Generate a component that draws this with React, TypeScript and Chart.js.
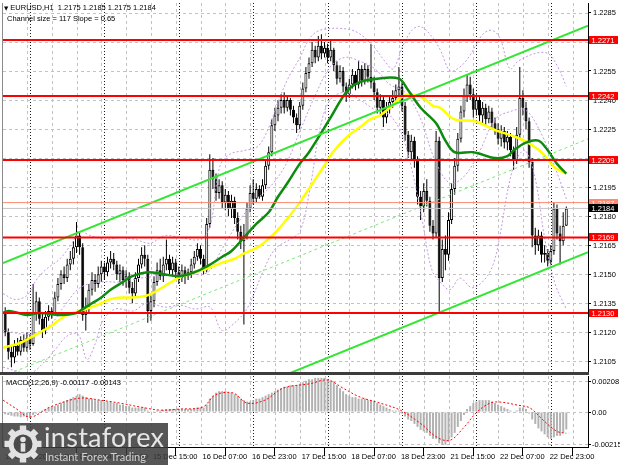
import React, { useEffect, useRef } from "react";
import { Chart, registerables } from "chart.js";

Chart.register(...registerables);

// ---------------- data ----------------
// bar index 0 = 14 Dec 00:00 (H1 bars, weekend gap removed)
const FIRST_BAR = -8;
const FIRST_OPEN = 1.2131;

const closes = [
  1.2120, 1.2110, 1.2107, 1.2113, 1.2110, 1.2116, 1.2112, 1.2117,
  1.2114, 1.2130, 1.2136, 1.2127, 1.2121, 1.2128, 1.2131, 1.2130, 1.2138, 1.2145,
  1.2150, 1.2148, 1.2155, 1.2158, 1.2164, 1.2170, 1.2164, 1.2129, 1.2133, 1.2142,
  1.2147, 1.2145, 1.2150, 1.2154, 1.2151, 1.2156, 1.2158, 1.2155, 1.2150, 1.2152,
  1.2147, 1.2149, 1.2143, 1.2140, 1.2148, 1.2155, 1.2160, 1.2158, 1.2131, 1.2136,
  1.2146, 1.2152, 1.2149, 1.2155, 1.2158, 1.2152, 1.2156, 1.2151, 1.2148, 1.2152,
  1.2149, 1.2151, 1.2155, 1.2159, 1.2163, 1.2158, 1.2152, 1.2176, 1.2204, 1.2199,
  1.2192, 1.2196, 1.2187, 1.2191, 1.2184, 1.2188, 1.2179, 1.2172, 1.2167, 1.2170,
  1.2184, 1.2192, 1.2189, 1.2194, 1.2190, 1.2196, 1.2206, 1.2213, 1.2227, 1.2232,
  1.2236, 1.2240, 1.2236, 1.2240, 1.2235, 1.2231, 1.2227, 1.2237, 1.2246, 1.2254,
  1.2259, 1.2266, 1.2262, 1.2268, 1.2264, 1.2267, 1.2262, 1.2266, 1.2258, 1.2251,
  1.2255, 1.2247, 1.2243, 1.2248, 1.2253, 1.2248, 1.2256, 1.2250, 1.2256, 1.2252,
  1.2249, 1.2244, 1.2236, 1.2240, 1.2231, 1.2236, 1.2239, 1.2241, 1.2245, 1.2247,
  1.2237, 1.2222, 1.2213, 1.2219, 1.2209, 1.2190, 1.2185, 1.2193, 1.2188, 1.2175,
  1.2171, 1.2219, 1.2148, 1.2163, 1.2160, 1.2178, 1.2194, 1.2206, 1.2220, 1.2234,
  1.2242, 1.2248, 1.2243, 1.2235, 1.2240, 1.2232, 1.2236, 1.2230, 1.2234, 1.2228,
  1.2225, 1.2220, 1.2224, 1.2218, 1.2221, 1.2214, 1.2209, 1.2222, 1.2241, 1.2236,
  1.2229, 1.2208, 1.2170, 1.2165, 1.2170, 1.2160, 1.2161, 1.2157, 1.2162, 1.2184,
  1.2171, 1.2167, 1.2175, 1.2184,
];

const highs = [
  1.2133, 1.2122, 1.2113, 1.2116, 1.2117, 1.2118, 1.2119, 1.2120,
  1.2119, 1.2145, 1.2141, 1.2138, 1.2130, 1.2131, 1.2134, 1.2133, 1.2141, 1.2148,
  1.2152, 1.2154, 1.2158, 1.2162, 1.2167, 1.2177, 1.2172, 1.2166, 1.2138, 1.2145,
  1.2151, 1.2150, 1.2154, 1.2157, 1.2156, 1.2159, 1.2162, 1.2161, 1.2157, 1.2155,
  1.2154, 1.2152, 1.2151, 1.2146, 1.2151, 1.2158, 1.2164, 1.2165, 1.2160, 1.2139,
  1.2149, 1.2156, 1.2158, 1.2159, 1.2168, 1.2160, 1.2159, 1.2158, 1.2154, 1.2155,
  1.2154, 1.2153, 1.2158, 1.2162, 1.2166, 1.2165, 1.2160, 1.2179, 1.2212, 1.2210,
  1.2202, 1.2199, 1.2198, 1.2194, 1.2193, 1.2191, 1.2190, 1.2182, 1.2175, 1.2176,
  1.2187, 1.2196, 1.2199, 1.2197, 1.2196, 1.2199, 1.2209, 1.2216, 1.2230, 1.2236,
  1.2240, 1.2243, 1.2244, 1.2242, 1.2241, 1.2237, 1.2233, 1.2239, 1.2249, 1.2257,
  1.2262, 1.2270, 1.2268, 1.2273, 1.2274, 1.2270, 1.2269, 1.2271, 1.2267, 1.2260,
  1.2258, 1.2257, 1.2249, 1.2251, 1.2256, 1.2255, 1.2260, 1.2258, 1.2259, 1.2258,
  1.2269, 1.2252, 1.2246, 1.2243, 1.2242, 1.2239, 1.2242, 1.2245, 1.2248, 1.2257,
  1.2249, 1.2239, 1.2224, 1.2222, 1.2221, 1.2211, 1.2193, 1.2197, 1.2199, 1.2190,
  1.2178, 1.2224, 1.2221, 1.2168, 1.2170, 1.2182, 1.2197, 1.2210, 1.2223, 1.2237,
  1.2246, 1.2253, 1.2252, 1.2246, 1.2243, 1.2242, 1.2239, 1.2238, 1.2237, 1.2236,
  1.2231, 1.2228, 1.2227, 1.2226, 1.2224, 1.2223, 1.2216, 1.2226, 1.2257, 1.2245,
  1.2239, 1.2231, 1.2210, 1.2174, 1.2173, 1.2172, 1.2165, 1.2163, 1.2165, 1.2187,
  1.2186, 1.2175, 1.2182, 1.2185,
];

const lows = [
  1.2118, 1.2106, 1.2102, 1.2104, 1.2108, 1.2108, 1.2110, 1.2110,
  1.2111, 1.2113, 1.2126, 1.2124, 1.2117, 1.2119, 1.2126, 1.2127, 1.2129, 1.2136,
  1.2142, 1.2145, 1.2146, 1.2152, 1.2155, 1.2161, 1.2160, 1.2126, 1.2121, 1.2130,
  1.2139, 1.2141, 1.2143, 1.2146, 1.2147, 1.2149, 1.2153, 1.2152, 1.2147, 1.2146,
  1.2144, 1.2143, 1.2140, 1.2135, 1.2138, 1.2146, 1.2153, 1.2154, 1.2125, 1.2126,
  1.2133, 1.2144, 1.2147, 1.2146, 1.2152, 1.2150, 1.2149, 1.2148, 1.2145, 1.2146,
  1.2145, 1.2147, 1.2148, 1.2153, 1.2157, 1.2155, 1.2150, 1.2151, 1.2174, 1.2194,
  1.2188, 1.2189, 1.2184, 1.2183, 1.2180, 1.2179, 1.2176, 1.2168, 1.2163, 1.2124,
  1.2168, 1.2182, 1.2186, 1.2187, 1.2189, 1.2188, 1.2194, 1.2204, 1.2211, 1.2224,
  1.2229, 1.2233, 1.2233, 1.2234, 1.2232, 1.2228, 1.2223, 1.2225, 1.2235, 1.2244,
  1.2251, 1.2257, 1.2259, 1.2260, 1.2261, 1.2262, 1.2259, 1.2260, 1.2255, 1.2248,
  1.2249, 1.2244, 1.2239, 1.2241, 1.2246, 1.2245, 1.2246, 1.2247, 1.2248, 1.2249,
  1.2246, 1.2240, 1.2233, 1.2232, 1.2226, 1.2228, 1.2233, 1.2236, 1.2238, 1.2242,
  1.2234, 1.2219, 1.2210, 1.2209, 1.2205, 1.2186, 1.2178, 1.2182, 1.2185, 1.2172,
  1.2168, 1.2169, 1.2130, 1.2146, 1.2152, 1.2157, 1.2176, 1.2191, 1.2203, 1.2218,
  1.2231, 1.2239, 1.2240, 1.2231, 1.2232, 1.2229, 1.2228, 1.2227, 1.2228, 1.2225,
  1.2222, 1.2217, 1.2216, 1.2215, 1.2214, 1.2211, 1.2204, 1.2207, 1.2220, 1.2232,
  1.2225, 1.2205, 1.2164, 1.2160, 1.2162, 1.2156, 1.2156, 1.2154, 1.2155, 1.2160,
  1.2168, 1.2155, 1.2165, 1.2175,
];

// moving averages: [bar, price]
const greenMA: [number, number][] = [
  [-8.7, 1.2130], [-7, 1.2131], [-5, 1.21305], [-1, 1.2129], [3, 1.2130], [10, 1.2129],
  [15, 1.2130], [17, 1.2132], [20, 1.2135], [23, 1.2138], [26, 1.2142], [30, 1.2146],
  [33, 1.2149], [38, 1.2151], [43, 1.2150], [48, 1.2149], [53, 1.2151], [57, 1.2154],
  [62, 1.2159], [65, 1.2162], [69, 1.2169], [73, 1.2176], [77, 1.2182], [80, 1.2190],
  [83, 1.2197], [87, 1.2207], [90, 1.2213], [97, 1.2231], [102, 1.2244], [106, 1.2249],
  [112, 1.2251], [119, 1.2251], [122, 1.2245], [126, 1.2236], [131, 1.2228], [134, 1.2219],
  [137, 1.2213], [143, 1.2213], [150, 1.2210], [154, 1.2211], [156, 1.2214], [160, 1.2218],
  [164, 1.2219], [167, 1.2214], [170, 1.2207], [173, 1.2202],
];

const yellowMA: [number, number][] = [
  [-8.7, 1.2112], [-3.2, 1.21145], [1, 1.2118], [6.5, 1.2123], [12, 1.2129], [17, 1.21315],
  [21.6, 1.2134], [25.8, 1.2137], [30, 1.2138], [33.2, 1.2138], [37.7, 1.2139], [42.6, 1.2143],
  [47.7, 1.2148], [53.2, 1.2151], [57.4, 1.2153], [62, 1.2156], [66, 1.2158], [69.4, 1.2161],
  [73.5, 1.2164], [76.8, 1.2168], [80, 1.2173], [83.2, 1.2179], [87, 1.2187], [90.3, 1.2195],
  [94.5, 1.2205], [97.7, 1.2213], [102.3, 1.2221], [106.5, 1.2226], [109.7, 1.2230],
  [112.9, 1.2232], [116, 1.2236], [119.4, 1.2241], [122.6, 1.2243], [126.8, 1.2241],
  [130, 1.2237], [132.3, 1.2236], [137, 1.2230], [143.5, 1.2229], [150, 1.22245],
  [156.5, 1.2221], [160.6, 1.2218], [165, 1.2213], [169.4, 1.2205], [173, 1.2202],
];

// Bollinger bands (dotted violet)
const bandUpper: [number, number][] = [
  [-8.7, 1.2140], [-4.8, 1.2137], [-1, 1.2139], [1.6, 1.2146], [4.8, 1.2152], [9.7, 1.2158],
  [13.5, 1.2166], [16.1, 1.2172], [19.4, 1.2170], [24.2, 1.2168], [29, 1.2169], [33.9, 1.2168],
  [38.7, 1.2166], [43.5, 1.2170], [48.4, 1.2169], [54.8, 1.2168], [58.1, 1.2175], [61.3, 1.2206],
  [64.5, 1.2212], [69.4, 1.2214], [73.5, 1.2216], [76.8, 1.2225], [80, 1.2239], [83.2, 1.2251],
  [87.1, 1.2262], [90.3, 1.2272], [93.5, 1.2276], [100, 1.2277], [105.5, 1.2275], [110.6, 1.2268],
  [114.5, 1.2260], [117.1, 1.2256], [120.3, 1.2268], [123.2, 1.2276], [125.8, 1.2278],
  [129, 1.2274], [132.3, 1.2266], [135.5, 1.2255], [138.7, 1.2257], [141.9, 1.2263],
  [146.1, 1.2274], [149, 1.2276], [151.6, 1.2272], [154.8, 1.2256], [157.4, 1.2260],
  [162.9, 1.2264], [167.1, 1.2264], [170.3, 1.2257], [173, 1.2247],
];

const bandMiddle: [number, number][] = [
  [-8.7, 1.2121], [0, 1.2119], [6.5, 1.2124], [11.3, 1.2134], [16.1, 1.2143], [22.6, 1.2146],
  [29, 1.2146], [35.5, 1.2148], [41.9, 1.2149], [51.6, 1.2150], [57.4, 1.2151], [61.9, 1.2163],
  [67.7, 1.2178], [72.6, 1.2188], [77.4, 1.2195], [82.3, 1.2206], [87.1, 1.2224], [91.9, 1.2242],
  [96.8, 1.2257], [101.6, 1.2262], [106.5, 1.2260], [111.3, 1.2256], [116.1, 1.2248],
  [121, 1.2244], [125.8, 1.2231], [130.6, 1.2209], [135.5, 1.2197], [140.3, 1.2201],
  [145.2, 1.2214], [150, 1.2230], [154.8, 1.2234], [159.7, 1.2235], [164.5, 1.2224],
  [169.4, 1.2205], [173, 1.2189],
];

const bandLower: [number, number][] = [
  [-8.7, 1.2102], [0, 1.2099], [4.8, 1.2105], [8.1, 1.2111], [11.9, 1.2118], [15.5, 1.2119],
  [18.4, 1.2106], [21, 1.2114], [23.2, 1.2125], [27.4, 1.2132], [33.2, 1.2131], [37.7, 1.2135],
  [43.5, 1.2133], [48.4, 1.2134], [53.2, 1.2132], [58.1, 1.2133], [61.9, 1.2121], [66.1, 1.2125],
  [70.3, 1.2133], [74.8, 1.2150], [79, 1.2163], [83.9, 1.2168], [87.1, 1.2172], [90.3, 1.2194],
  [93.5, 1.2225], [96.8, 1.2240], [101.6, 1.2244], [106.5, 1.2240], [111.3, 1.2235],
  [116.1, 1.2232], [120, 1.2222], [123.2, 1.2204], [126.5, 1.2178], [129.7, 1.2152],
  [132.9, 1.2145], [135.5, 1.2142], [138.7, 1.2148], [142.6, 1.2143], [146.5, 1.2147],
  [149.4, 1.2155], [151.6, 1.2170], [154.2, 1.2194], [156.8, 1.2209], [159.7, 1.2214],
  [162.9, 1.2200], [166.1, 1.2168], [169.4, 1.2145], [173, 1.2132],
];

// equidistant channel: start/end of upper line, size 117 pips, slope 0.65
const channelStart: [number, number] = [-8.71, 1.21558];
const channelEnd: [number, number] = [180, 1.22784];
const channelSize = 0.0117;

const redLevels = [1.2271, 1.2242, 1.2209, 1.2169, 1.213];
const salmonLevel = 1.2187;
const bidLevel = 1.2184;

const priceTicks = [
  1.2105, 1.212, 1.2135, 1.215, 1.2165, 1.218, 1.2195, 1.221, 1.2225, 1.224, 1.2255, 1.227, 1.2285,
];

// time axis
const timeTickBars = [-8.7, 7, 23, 39, 55, 71, 87, 103, 119, 135, 151, 167];
const timeLabels = [
  "11 Dec 2020", "14 Dec 07:00", "14 Dec 23:00", "15 Dec 15:00", "16 Dec 07:00", "16 Dec 23:00",
  "17 Dec 15:00", "18 Dec 07:00", "18 Dec 23:00", "21 Dec 15:00", "22 Dec 07:00", "22 Dec 23:00",
];
const gridBars = [
  -1, 7, 15, 23, 31, 39, 47, 55, 63, 71, 79, 87, 95, 103, 111, 119, 127, 135, 143, 151, 159, 167, 175,
];
const daySeparators = [0, 24, 48, 72, 96, 120, 144, 168];

// MACD(12,26,9)
const macdHist = [
  -0.00015, -0.0002, -0.00025, -0.0003, -0.0003, -0.00035, -0.0003, -0.00035,
  -0.0004, -0.0002, -0.0001, 0.00005, 0.0001, 0.0002, 0.0003, 0.00035, 0.0004, 0.0005,
  0.0006, 0.0007, 0.0008, 0.0009, 0.001, 0.0011, 0.0012, 0.0011, 0.001, 0.0009,
  0.0009, 0.0008, 0.0008, 0.0008, 0.0007, 0.0007, 0.0007, 0.0006, 0.0006, 0.0005,
  0.0005, 0.0004, 0.0004, 0.0003, 0.0003, 0.0003, 0.0003, 0.0003, 0.0001, 0.00005,
  0.00005, 0.0001, 0.0001, 0.00015, 0.0002, 0.0002, 0.0002, 0.0002, 0.0002, 0.0002,
  0.0002, 0.0002, 0.0002, 0.00025, 0.0003, 0.0003, 0.0003, 0.0005, 0.0009, 0.0011,
  0.0013, 0.0014, 0.0014, 0.0014, 0.0013, 0.0013, 0.0012, 0.0011, 0.0009, 0.0008,
  0.0007, 0.0007, 0.0008, 0.0009, 0.0009, 0.001, 0.0011, 0.0012, 0.0013, 0.0014,
  0.0015, 0.0016, 0.0017, 0.0017, 0.0018, 0.0018, 0.0018, 0.0019, 0.002, 0.0021,
  0.0022, 0.0022, 0.0023, 0.0023, 0.0023, 0.0023, 0.0022, 0.0021, 0.002, 0.0018,
  0.0016, 0.0014, 0.0012, 0.0011, 0.001, 0.001, 0.0009, 0.0009, 0.0009, 0.0008,
  0.0008, 0.0007, 0.0006, 0.0005, 0.0004, 0.0003, 0.0002, 0.0001, 0.0001, 0.0001,
  -0.0001, -0.0003, -0.0005, -0.0006, -0.0008, -0.001, -0.0012, -0.0013, -0.0014, -0.0016,
  -0.0018, -0.0018, -0.0021, -0.0022, -0.0022, -0.002, -0.0017, -0.0014, -0.001, -0.0006,
  -0.0002, 0.0002, 0.0004, 0.0006, 0.0007, 0.0008, 0.0008, 0.0008, 0.0008, 0.0007,
  0.0006, 0.0005, 0.0004, 0.0003, 0.0002, 0.0001, 0.0, 0.0001, 0.0003, 0.0003,
  0.0002, -0.0001, -0.0005, -0.0008, -0.0011, -0.0013, -0.0015, -0.0017, -0.0018, -0.0017,
  -0.0016, -0.0016, -0.0014, -0.00117,
];

const macdSignal: [number, number][] = [
  [-8.7, 0.0008], [-4.8, 0.00027], [0, -0.00034], [6.5, 0.00034], [12.9, 0.0008], [17.1, 0.00094],
  [22.6, 0.0008], [29, 0.0006], [35.5, 0.00034], [41.9, 0.00013], [48.4, 0.0002], [55.8, 0.00034],
  [59.7, 0.00114], [65.5, 0.00128], [70, 0.0006], [75.8, 0.0008], [81.6, 0.0016], [90.3, 0.0019],
  [96.1, 0.00215], [101, 0.0016], [106.5, 0.001], [112.9, 0.0006], [119.4, 0.00013],
  [125.8, -0.00074], [131.3, -0.0017], [135.5, -0.0019], [139.7, -0.0011], [144.2, 0.0],
  [148.4, 0.0006], [151.6, 0.00067], [157.1, 0.00047], [161.3, 0.00027], [165.5, -0.00054],
  [170, -0.0013], [173, -0.00143],
];

const macdTicks = [0.00208, 0, -0.00215];
const macdTickLabels = ["0.00208", "0.00", "-0.00215"];

// ---------------- view constants ----------------
const X_MIN = -8.71;
const X_MAX = 180;
const Y_MIN = 1.20995;
const Y_MAX = 1.22901;
const MACD_MIN = -0.00235;
const MACD_MAX = 0.00242;
const AXIS_FONT = '7.5px "Liberation Sans", Arial, sans-serif';

const pts = (arr: [number, number][]) => arr.map(([x, y]) => ({ x, y }));

function buildCandles() {
  return closes.map((c, k) => {
    const o = k === 0 ? FIRST_OPEN : closes[k - 1];
    return { i: FIRST_BAR + k, o, h: highs[k], l: lows[k], c };
  });
}

function makeGridPlugin(hValues: number[], id: string) {
  return {
    id,
    beforeDatasetsDraw(chart: any) {
      const { ctx, chartArea: a, scales } = chart;
      const xs = scales.x;
      const ys = scales.y;
      ctx.save();
      ctx.beginPath();
      ctx.rect(a.left, a.top, a.right - a.left, a.bottom - a.top);
      ctx.clip();
      ctx.lineWidth = 1;
      ctx.strokeStyle = "#c2c2c2";
      ctx.setLineDash([3, 3]);
      ctx.beginPath();
      for (const b of gridBars) {
        const px = Math.round(xs.getPixelForValue(b)) + 0.5;
        ctx.moveTo(px, a.top);
        ctx.lineTo(px, a.bottom);
      }
      for (const v of hValues) {
        const py = Math.round(ys.getPixelForValue(v)) + 0.5;
        ctx.moveTo(a.left, py);
        ctx.lineTo(a.right, py);
      }
      ctx.stroke();
      ctx.strokeStyle = "#1a1a1a";
      ctx.setLineDash([1, 2]);
      ctx.beginPath();
      for (const b of daySeparators) {
        const px = Math.round(xs.getPixelForValue(b)) + 0.5;
        ctx.moveTo(px, a.top);
        ctx.lineTo(px, a.bottom);
      }
      ctx.stroke();
      ctx.restore();
      ctx.save();
      ctx.strokeStyle = "#8a8a8a";
      ctx.lineWidth = 1;
      ctx.beginPath();
      ctx.moveTo(a.left - 0.5, a.top);
      ctx.lineTo(a.left - 0.5, a.bottom);
      ctx.stroke();
      ctx.restore();
    },
  };
}

const mainLabelsPlugin = {
  id: "mainLabels",
  afterDraw(chart: any) {
    const { ctx } = chart;
    const y = chart.scales.y;
    ctx.save();
    ctx.font = AXIS_FONT;
    ctx.textBaseline = "middle";
    ctx.textAlign = "left";
    ctx.fillStyle = "#000";
    for (const v of priceTicks) ctx.fillText(v.toFixed(4), 593, y.getPixelForValue(v) + 0.5);
    const boxes: [number, string][] = [
      ...redLevels.map((v) => [v, "#ff0000"] as [number, string]),
      [salmonLevel, "#ff8a70"],
      [bidLevel, "#000000"],
    ];
    for (const [v, bg] of boxes) {
      const py = Math.round(y.getPixelForValue(v));
      ctx.fillStyle = bg;
      ctx.fillRect(589, py - 4, 29, 8);
      ctx.fillStyle = "#ffffff";
      ctx.fillText(v.toFixed(4), 591.5, py + 0.5);
    }
    ctx.restore();
  },
};

const macdLabelsPlugin = {
  id: "macdLabels",
  afterDraw(chart: any) {
    const { ctx, chartArea: a } = chart;
    const xs = chart.scales.x;
    const ys = chart.scales.y;
    ctx.save();
    ctx.font = AXIS_FONT;
    ctx.textBaseline = "middle";
    ctx.textAlign = "left";
    ctx.fillStyle = "#000";
    macdTicks.forEach((v, k) => ctx.fillText(macdTickLabels[k], 592, ys.getPixelForValue(v) + 0.5));
    timeTickBars.forEach((b, k) => {
      ctx.fillText(timeLabels[k], xs.getPixelForValue(b) + 2, a.bottom + 9.5);
    });
    ctx.restore();
  },
};

function lineDs(data: any[], color: string, width: number, order: number, dash: number[] = [], tension = 0) {
  return {
    type: "line" as const,
    data,
    borderColor: color,
    borderWidth: width,
    borderDash: dash,
    pointRadius: 0,
    fill: false,
    tension,
    order,
  };
}

export default function App() {
  const mainRef = useRef<HTMLCanvasElement>(null);
  const macdRef = useRef<HTMLCanvasElement>(null);

  useEffect(() => {
    const candles = buildCandles();
    const slope = (channelEnd[1] - channelStart[1]) / (channelEnd[0] - channelStart[0]);
    const chanLine = (off: number) => [
      { x: channelStart[0], y: channelStart[1] + off },
      { x: channelEnd[0], y: channelStart[1] + off + slope * (channelEnd[0] - channelStart[0]) },
    ];
    const hLine = (v: number) => [
      { x: X_MIN, y: v },
      { x: X_MAX, y: v },
    ];

    const main = new Chart(mainRef.current as HTMLCanvasElement, {
      type: "line",
      data: {
        datasets: [
          ...redLevels.map((v) => lineDs(hLine(v), "#ff0000", 2, 1)),
          lineDs(hLine(salmonLevel), "#ff8a70", 1, 1),
          lineDs(hLine(bidLevel), "#c4c4c4", 1, 1),
          lineDs(chanLine(0), "#33e633", 2, 2),
          lineDs(chanLine(-channelSize), "#33e633", 2, 2),
          lineDs(chanLine(-channelSize / 2), "#7be87b", 1, 2, [3, 3]),
          lineDs(pts(greenMA), "#0e8a0e", 2.5, 3, [], 0.35),
          lineDs(pts(yellowMA), "#ffff00", 2.5, 3, [], 0.35),
          lineDs(pts(bandUpper), "#c497e4", 1, 4, [2, 2], 0.35),
          lineDs(pts(bandMiddle), "#c497e4", 1, 4, [2, 2], 0.35),
          lineDs(pts(bandLower), "#c497e4", 1, 4, [2, 2], 0.35),
          {
            type: "bar" as const,
            data: candles.map((b) => ({ x: b.i, y: [b.o, b.c === b.o ? b.c + 0.00002 : b.c] })),
            backgroundColor: candles.map((b) => (b.c >= b.o ? "#ffffff" : "#000000")),
            borderColor: "#000000",
            borderWidth: 1,
            borderSkipped: false,
            barThickness: 3,
            grouped: false,
            inflateAmount: 0,
            order: 5,
          } as any,
          {
            type: "bar" as const,
            data: candles.map((b) => ({ x: b.i, y: [b.l, b.h] })),
            backgroundColor: "#000000",
            borderWidth: 0,
            barThickness: 1,
            grouped: false,
            inflateAmount: 0,
            order: 6,
          } as any,
        ],
      },
      options: {
        animation: false,
        responsive: false,
        events: [],
        layout: { padding: { left: 3, top: 3, right: 0, bottom: 2 } },
        plugins: { legend: { display: false }, tooltip: { enabled: false } },
        scales: {
          x: { type: "linear", min: X_MIN, max: X_MAX, display: false, offset: false },
          y: {
            type: "linear",
            position: "right",
            min: Y_MIN,
            max: Y_MAX,
            afterFit: (s: any) => {
              s.width = 32;
            },
            afterBuildTicks: (s: any) => {
              s.ticks = priceTicks.map((v) => ({ value: v }));
            },
            ticks: { display: false },
            grid: { drawOnChartArea: false, drawTicks: true, tickLength: 3, tickColor: "#000" },
            border: { display: true, color: "#000", width: 1 },
          },
        },
      } as any,
      plugins: [makeGridPlugin(priceTicks, "mainGrid"), mainLabelsPlugin],
    });

    const macd = new Chart(macdRef.current as HTMLCanvasElement, {
      type: "line",
      data: {
        datasets: [
          lineDs(pts(macdSignal), "#ff0000", 1, 1, [2, 2], 0.35),
          {
            type: "bar" as const,
            data: macdHist.map((v, k) => ({ x: FIRST_BAR + k, y: v })),
            backgroundColor: "#b2b2b2",
            borderWidth: 0,
            barThickness: 2,
            grouped: false,
            inflateAmount: 0,
            order: 2,
          } as any,
        ],
      },
      options: {
        animation: false,
        responsive: false,
        events: [],
        layout: { padding: { left: 3, top: 2, right: 0, bottom: 0 } },
        plugins: { legend: { display: false }, tooltip: { enabled: false } },
        scales: {
          x: {
            type: "linear",
            min: X_MIN,
            max: X_MAX,
            offset: false,
            afterFit: (s: any) => {
              s.height = 18;
            },
            afterBuildTicks: (s: any) => {
              s.ticks = timeTickBars.map((v) => ({ value: v }));
            },
            ticks: { display: false },
            grid: { drawOnChartArea: false, drawTicks: true, tickLength: 9, tickColor: "#000" },
            border: { display: true, color: "#000", width: 1 },
          },
          y: {
            type: "linear",
            position: "right",
            min: MACD_MIN,
            max: MACD_MAX,
            afterFit: (s: any) => {
              s.width = 32;
            },
            afterBuildTicks: (s: any) => {
              s.ticks = macdTicks.map((v) => ({ value: v }));
            },
            ticks: { display: false },
            grid: { drawOnChartArea: false, drawTicks: true, tickLength: 3, tickColor: "#000" },
            border: { display: true, color: "#000", width: 1 },
          },
        },
      } as any,
      plugins: [makeGridPlugin(macdTicks, "macdGrid"), macdLabelsPlugin],
    });

    return () => {
      main.destroy();
      macd.destroy();
    };
  }, []);

  const small: React.CSSProperties = {
    position: "absolute",
    fontFamily: '"Liberation Sans", Arial, sans-serif',
    fontSize: "7.5px",
    lineHeight: "9px",
    color: "#000",
    whiteSpace: "pre",
  };
  const teeth = [0, 45, 90, 135, 180, 225, 270, 315];

  return (
    <div
      style={{
        position: "absolute",
        left: 0,
        top: 0,
        width: 620,
        height: 465,
        background: "#ffffff",
        overflow: "hidden",
      }}
    >
      <canvas ref={mainRef} width={620} height={374} style={{ position: "absolute", left: 0, top: 0 }} />
      <canvas ref={macdRef} width={620} height={91} style={{ position: "absolute", left: 0, top: 374 }} />
      <div style={{ position: "absolute", left: 0, top: 372, width: 589, height: 3, background: "#3d3d3d" }} />
      <div style={{ ...small, left: 4, top: 3 }}>
        <span style={{ fontFamily: '"DejaVu Sans", sans-serif', fontSize: "5.5px" }}>▼</span>
        {" EURUSD,H1  1.2175 1.2185 1.2175 1.2184"}
      </div>
      <div style={{ ...small, left: 7, top: 13.5 }}>Channel size = 117 Slope = 0.65</div>
      <div style={{ ...small, left: 6, top: 378 }}>MACD(12,26,9) -0.00117 -0.00143</div>

      <div
        style={{
          position: "absolute",
          left: 0,
          top: 423,
          width: 168,
          height: 42,
          background: "rgba(58,58,58,0.86)",
        }}
      >
        <svg width="40" height="40" viewBox="-20 -20 40 40" style={{ position: "absolute", left: 3, top: 1 }}>
          <g fill="#e2e2e2">
            {teeth.map((r) => (
              <rect key={r} x={-3.2} y={-18.5} width={6.4} height={8} transform={`rotate(${r})`} />
            ))}
            <circle r={14.5} />
          </g>
          <circle r={9.5} fill="#4a4a4a" />
          <circle cx={0} cy={-4.5} r={2.8} fill="#e2e2e2" />
          <rect x={-2.3} y={-0.8} width={4.6} height={8.5} fill="#e2e2e2" />
        </svg>
        <div
          style={{
            position: "absolute",
            left: 44,
            top: 1,
            fontFamily: "Lato, 'Open Sans', sans-serif",
            fontSize: "27px",
            lineHeight: "26px",
            color: "#e6e6e6",
            letterSpacing: "0.3px",
            whiteSpace: "pre",
          }}
        >
          instaforex
        </div>
        <div
          style={{
            position: "absolute",
            left: 45,
            top: 28,
            fontFamily: "Lato, 'Open Sans', sans-serif",
            fontSize: "11px",
            lineHeight: "11px",
            color: "#d2d2d2",
            whiteSpace: "pre",
          }}
        >
          Instant Forex Trading
        </div>
      </div>
    </div>
  );
}
